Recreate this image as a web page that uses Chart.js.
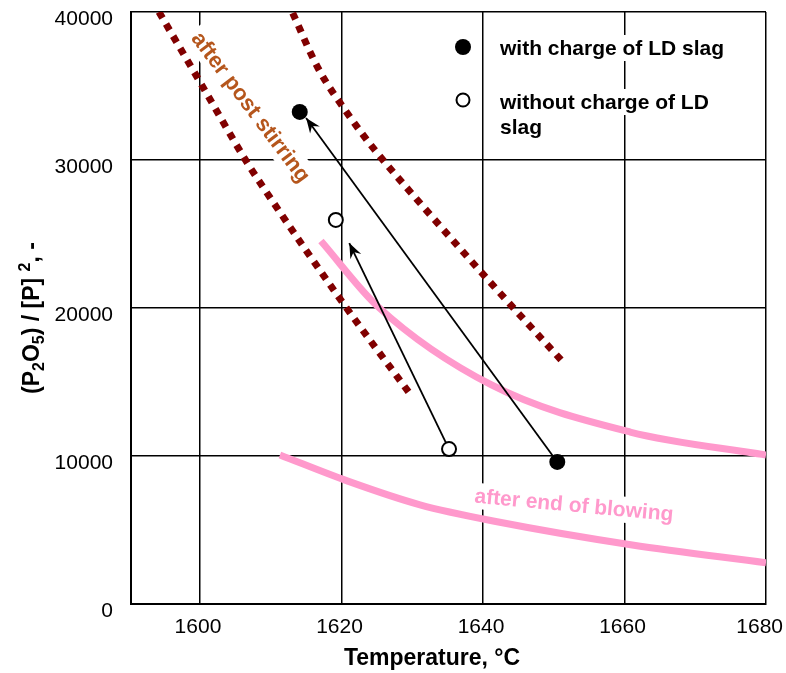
<!DOCTYPE html>
<html lang="en">
<head>
<meta charset="UTF-8">
<title>(P2O5)/[P]2 vs temperature</title>
<script src="https://cdn.jsdelivr.net/npm/chart.js"></script>
<style>
  html, body { margin: 0; padding: 0; background: #fff; }
  canvas { display: block; }
</style>
</head>
<body>
<canvas id="grafico" width="786" height="673"></canvas>
<script>
// axis ticks
const xTicks = [1600, 1620, 1640, 1660, 1680];
const yTicks = [0, 10000, 20000, 30000, 40000];

// measured points
const withSlagT = [1614.1, 1650.5];
const withSlagR = [33250, 9600];
const withoutSlagT = [1619.2, 1635.2];
const withoutSlagR = [25950, 10470];

// arrows (start -> tip)
const arrowWithT = [1650.5, 1615.0];
const arrowWithR = [9600, 32840];
const arrowWithoutT = [1635.2, 1621.1];
const arrowWithoutR = [10470, 24390];

// "after end of blowing" band (pink)
const blowUpperT = [1617.1, 1625.2, 1641.2, 1660.8, 1680.0];
const blowUpperR = [24530, 20070, 14800, 11620, 10070];
const blowLowerT = [1611.3, 1620.9, 1631.1, 1642.0, 1661.1, 1680.0];
const blowLowerR = [10070, 8300, 6700, 5560, 3990, 2780];

// "after post stirring" band (dotted)
const stirLeftT = [1594.2, 1599.6, 1606.6, 1608.9, 1620.2, 1630.0];
const stirLeftR = [40000, 35600, 29870, 28180, 20340, 13990];
const stirRightT = [1613.1, 1616.7, 1621.0, 1624.7, 1629.9, 1642.0, 1651.3];
const stirRightR = [39930, 36200, 33040, 30680, 27750, 21220, 16350];

const FONT = "'Liberation Sans', Arial, Helvetica, sans-serif";
const PINK = '#ff99cc';
const MAROON = '#800000';
const BROWN = '#b5561c';

function toXY(ts, rs) {
    return ts.map((t, i) => ({ x: t, y: rs[i] }));
}

// white boxed texts, drawn under the data but over the grid
const textBoxes = {
    id: 'textBoxes',
    beforeDatasetsDraw(chart) {
        const ctx = chart.ctx;
        ctx.save();
        ctx.beginPath();
        ctx.rect(chart.chartArea.left + 2, chart.chartArea.top - 1, chart.chartArea.width, chart.chartArea.height);
        ctx.clip();

        function boxed(text, x, y, angle, color, size, align) {
            ctx.save();
            ctx.translate(x, y);
            ctx.rotate(angle);
            ctx.font = 'bold ' + size + 'px ' + FONT;
            const w = ctx.measureText(text).width;
            const x0 = align === 'left' ? 0 : -w / 2;
            ctx.fillStyle = '#fff';
            ctx.fillRect(x0 - 5, -size * 0.62, w + 10, size * 1.24);
            ctx.fillStyle = color;
            ctx.textAlign = 'left';
            ctx.textBaseline = 'middle';
            ctx.fillText(text, x0, 1);
            ctx.restore();
        }

        boxed('after post stirring', 251, 107, 53 * Math.PI / 180, BROWN, 22, 'center');
        boxed('after end of blowing', 574, 505, 5.3 * Math.PI / 180, PINK, 21, 'center');

        boxed('with charge of LD slag', 500, 48, 0, '#000', 21, 'left');
        boxed('without charge of LD', 500, 102, 0, '#000', 21, 'left');
        boxed('slag', 500, 127, 0, '#000', 21, 'left');

        // legend markers
        ctx.fillStyle = '#000';
        ctx.beginPath();
        ctx.arc(463, 47, 8, 0, Math.PI * 2);
        ctx.fill();
        ctx.fillStyle = '#fff';
        ctx.strokeStyle = '#000';
        ctx.lineWidth = 2;
        ctx.beginPath();
        ctx.arc(463, 100, 6.5, 0, Math.PI * 2);
        ctx.fill();
        ctx.stroke();
        ctx.restore();
    }
};

// arrow heads at the last point of datasets marked arrow
const arrowHeads = {
    id: 'arrowHeads',
    afterDatasetsDraw(chart) {
        const ctx = chart.ctx;
        chart.data.datasets.forEach((ds, i) => {
            if (!ds.arrow) return;
            const pts = chart.getDatasetMeta(i).data;
            const a = pts[pts.length - 2], b = pts[pts.length - 1];
            const ang = Math.atan2(b.y - a.y, b.x - a.x);
            ctx.save();
            ctx.translate(b.x, b.y);
            ctx.rotate(ang);
            ctx.fillStyle = '#000';
            ctx.beginPath();
            ctx.moveTo(0, 0);
            ctx.lineTo(-15, -6);
            ctx.lineTo(-10, 0);
            ctx.lineTo(-15, 6);
            ctx.closePath();
            ctx.fill();
            ctx.restore();
        });
    }
};

// x tick labels and axis titles (y title has sub/superscripts)
const axisTitles = {
    id: 'axisTitles',
    afterDraw(chart) {
        const ctx = chart.ctx;
        const xs = chart.scales.x;
        ctx.save();
        ctx.fillStyle = '#000';
        ctx.font = '21px ' + FONT;
        ctx.textAlign = 'center';
        ctx.textBaseline = 'middle';
        xTicks.forEach(v => {
            const w = ctx.measureText(String(v)).width;
            let px = xs.getPixelForValue(v) - 2;
            px = Math.min(px, chart.width - 3 - w / 2);
            ctx.fillText(String(v), px, 627);
        });

        ctx.font = 'bold 23px ' + FONT;
        ctx.fillText('Temperature, °C', 432, 659);

        const parts = [
            { t: '(P', s: 23, dy: 0 },
            { t: '2', s: 16, dy: 5 },
            { t: 'O', s: 23, dy: 0 },
            { t: '5', s: 16, dy: 5 },
            { t: ') / [P] ', s: 23, dy: 0 },
            { t: '2', s: 16, dy: -9 },
            { t: ', -', s: 23, dy: 0 }
        ];
        let total = 0;
        parts.forEach(p => {
            ctx.font = 'bold ' + p.s + 'px ' + FONT;
            p.w = ctx.measureText(p.t).width;
            total += p.w;
        });
        ctx.translate(39, 318);
        ctx.rotate(-Math.PI / 2);
        ctx.textAlign = 'left';
        ctx.textBaseline = 'alphabetic';
        let x = -total / 2;
        parts.forEach(p => {
            ctx.font = 'bold ' + p.s + 'px ' + FONT;
            ctx.fillText(p.t, x, p.dy);
            x += p.w;
        });
        ctx.restore();
    }
};

const curve = {
    type: 'line',
    pointRadius: 0,
    borderWidth: 7,
    cubicInterpolationMode: 'monotone',
    clip: 0
};

new Chart(document.getElementById('grafico'), {
    type: 'line',
    data: {
        datasets: [
            {
                label: 'with charge of LD slag',
                data: toXY(withSlagT, withSlagR),
                showLine: false,
                pointRadius: 8,
                pointBackgroundColor: '#000',
                pointBorderColor: '#000',
                pointBorderWidth: 0
            },
            {
                label: 'without charge of LD slag',
                data: toXY(withoutSlagT, withoutSlagR),
                showLine: false,
                pointRadius: 7,
                pointBackgroundColor: '#fff',
                pointBorderColor: '#000',
                pointBorderWidth: 2
            },
            {
                label: 'arrow with',
                data: toXY(arrowWithT, arrowWithR),
                arrow: true,
                borderColor: '#000',
                borderWidth: 1.8,
                pointRadius: 0
            },
            {
                label: 'arrow without',
                data: toXY(arrowWithoutT, arrowWithoutR),
                arrow: true,
                borderColor: '#000',
                borderWidth: 1.8,
                pointRadius: 0
            },
            Object.assign({ label: 'blow upper', data: toXY(blowUpperT, blowUpperR), borderColor: PINK }, curve),
            Object.assign({ label: 'blow lower', data: toXY(blowLowerT, blowLowerR), borderColor: PINK }, curve),
            Object.assign({ label: 'stir left', data: toXY(stirLeftT, stirLeftR), borderColor: MAROON, borderDash: [7, 7], borderCapStyle: 'butt' }, curve),
            Object.assign({ label: 'stir right', data: toXY(stirRightT, stirRightR), borderColor: MAROON, borderDash: [7, 7], borderCapStyle: 'butt' }, curve)
        ]
    },
    options: {
        responsive: false,
        animation: false,
        devicePixelRatio: 1,
        layout: { padding: { top: 12, right: 20, left: 0, bottom: 0 } },
        plugins: {
            legend: { display: false },
            tooltip: { enabled: false }
        },
        scales: {
            x: {
                type: 'linear',
                min: 1590.25,
                max: 1680,
                afterBuildTicks: s => { s.ticks = xTicks.map(v => ({ value: v })); },
                afterFit: s => { s.height = 69; s.paddingLeft = 0; s.paddingRight = 0; },
                grid: { color: '#000', lineWidth: 1.5, drawTicks: false },
                border: { color: '#000', width: 2 },
                ticks: { display: false }
            },
            y: {
                type: 'linear',
                min: 0,
                max: 40000,
                afterBuildTicks: s => { s.ticks = yTicks.map(v => ({ value: v })); },
                afterFit: s => { s.width = 131; s.paddingTop = 0; s.paddingBottom = 0; },
                grid: { color: '#000', lineWidth: 1.5, drawTicks: false },
                border: { color: '#000', width: 2 },
                ticks: {
                    color: '#000',
                    font: { family: FONT, size: 21 },
                    padding: 18,
                    labelOffset: 7,
                    autoSkip: false,
                    callback: v => String(v)
                }
            }
        }
    },
    plugins: [textBoxes, arrowHeads, axisTitles]
});
</script>
</body>
</html>
